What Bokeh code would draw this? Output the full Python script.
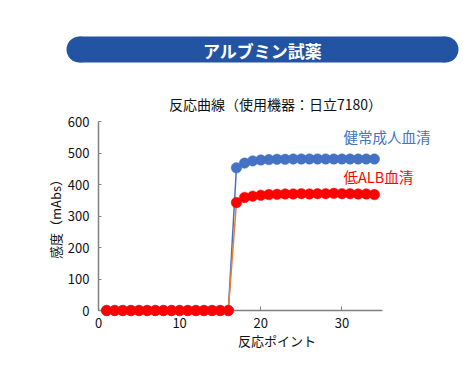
from bokeh.plotting import figure
from bokeh.models import Range1d, Label, FixedTicker
from bokeh.core.properties import value
from bokeh.layouts import column
from bokeh.embed import file_html
from bokeh.resources import INLINE

FONT = "Noto Sans CJK JP"

banner_text = "アルブミン試薬"
chart_title = "反応曲線（使用機器：日立7180）"
x_label = "反応ポイント"
y_label = "感度（mAbs）"
series_names = ["健常成人血清", "低ALB血清"]

points = list(range(1, 35))
healthy = [0] * 16 + [453, 468, 475, 478, 479, 480, 480, 481, 481, 481,
                      481, 481, 481, 481, 481, 481, 481, 481]
low_alb = [0] * 16 + [343, 359, 363, 366, 368, 369, 370, 370, 371, 370,
                      371, 371, 372, 371, 371, 370, 370, 368]
x_ticks = [0, 10, 20, 30]
y_ticks = [0, 100, 200, 300, 400, 500, 600]

BLUE = "#4472C4"
RED = "#FF0000"
ORANGE = "#ED7D31"
NAVY = "#2254A3"

W = 463
LEFT, RIGHT = 98, 8   # frame borders shared by both figures (column aligns frames)

# ---- banner + title figure (page pixel coordinates) ----
bh = 113
banner = figure(width=W, height=bh, x_range=Range1d(LEFT, W - RIGHT),
                y_range=Range1d(bh, 0),
                output_backend="svg", toolbar_location=None,
                min_border_left=LEFT, min_border_right=RIGHT,
                min_border_top=0, min_border_bottom=0)
banner.axis.visible = False
banner.grid.visible = False
banner.outline_line_color = None
banner.quad(left=[79], right=[445], top=[36], bottom=[62],
            fill_color=NAVY, line_color=None, level="overlay")
banner.circle(x=[79, 445], y=[49, 49], radius=13, fill_color=NAVY,
              line_color=None, level="overlay")
banner.text(x=[262], y=[49.5], text=[banner_text], text_color="white",
            text_font=value(FONT), text_font_size="17px", text_font_style="bold",
            text_align="center", text_baseline="middle", level="overlay")
banner.text(x=[275], y=[103], text=[chart_title], text_color="#111111",
            text_font=value(FONT), text_font_size="14px",
            text_align="center", text_baseline="middle", level="overlay")

# ---- main chart ----
ph = 254
p = figure(width=W, height=ph, x_range=Range1d(0, 44), y_range=Range1d(0, 600),
           output_backend="svg", toolbar_location=None,
           min_border_left=LEFT, min_border_right=RIGHT, min_border_top=8,
           min_border_bottom=57)
p.grid.visible = False
p.outline_line_color = None

for ax in (p.xaxis[0], p.yaxis[0]):
    ax.axis_line_color = "#808080"
    ax.axis_line_width = 1.5
    ax.major_tick_line_color = "#808080"
    ax.major_tick_line_width = 1
    ax.major_tick_out = 0
    ax.minor_tick_line_color = None
    ax.major_label_text_font = FONT
    ax.major_label_text_font_size = "13px"
    ax.major_label_text_color = "#111111"
    ax.axis_label_text_font = FONT
    ax.axis_label_text_font_size = "13px"
    ax.axis_label_text_font_style = "normal"
    ax.axis_label_text_color = "#111111"

p.xaxis.ticker = FixedTicker(ticks=x_ticks)
p.yaxis.ticker = FixedTicker(ticks=y_ticks)
p.xaxis.bounds = (0, 35)
p.xaxis.major_tick_in = 4
p.yaxis.major_tick_in = 3
p.xaxis.major_label_standoff = 7
p.yaxis.major_label_standoff = 9
p.xaxis.axis_label = x_label
p.yaxis.axis_label = y_label
p.xaxis.axis_label_standoff = 0
p.yaxis.axis_label_standoff = 0

p.line(points, healthy, line_color=BLUE, line_width=1.5)
p.line(points, low_alb, line_color=ORANGE, line_width=1.5)
p.scatter(points, healthy, size=10.5, fill_color=BLUE, line_color=BLUE,
          line_width=0.5, level="overlay")
p.scatter(points, low_alb, size=10.5, fill_color=RED, line_color=RED,
          line_width=0.5, level="overlay")

p.add_layout(Label(x=30.2, y=552, text=series_names[0], text_color=BLUE,
                   text_font=FONT, text_font_size="14.5px",
                   text_align="left", text_baseline="middle"))
p.add_layout(Label(x=30.2, y=425, text=series_names[1], text_color=RED,
                   text_font=FONT, text_font_size="14.5px",
                   text_align="left", text_baseline="middle"))

layout = column(banner, p, spacing=0)
open("out.html", "w").write(file_html(layout, INLINE))
